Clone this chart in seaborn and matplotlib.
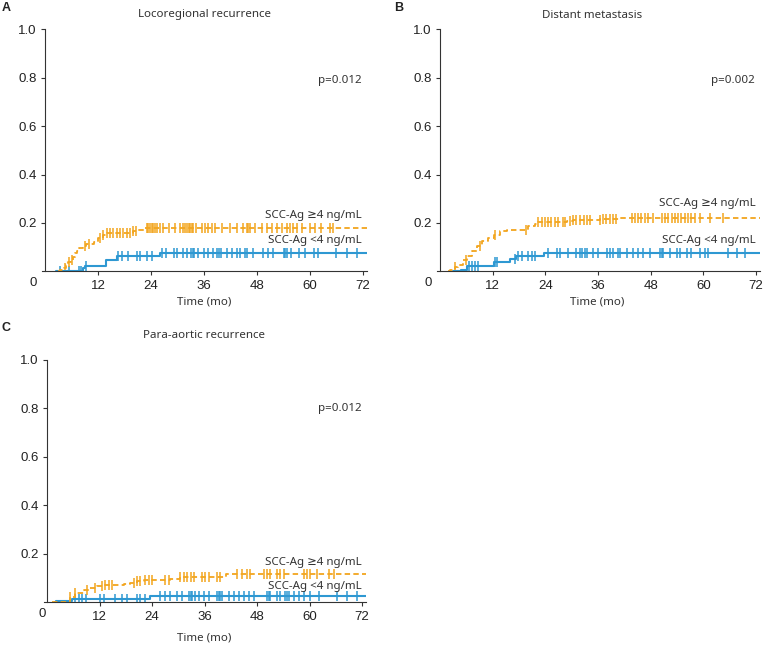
import numpy as np
import seaborn as sns
import matplotlib.pyplot as plt
import matplotlib.transforms as mtransforms

# ---- data (months, cumulative incidence) ----
# Panel A: locoregional recurrence
a_hi_t = [3.0, 3.5, 4.2, 4.8, 5.3, 5.8, 6.3, 6.8, 7.3, 7.8, 8.5, 9.3, 11.0, 12.1, 13.2, 14.0, 20.0, 21.1, 22.6]
a_hi_y = [0, 0.007, 0.015, 0.026, 0.037, 0.047, 0.060, 0.074, 0.085, 0.095, 0.104, 0.111, 0.122, 0.136, 0.150, 0.159, 0.166, 0.170, 0.179]
a_hi_cens = [4.5, 5.5, 6.2, 9.0, 10.0, 12.5, 13.2, 14.0, 14.7, 15.5, 16.2, 17.0, 17.7, 18.5, 19.2, 20.0, 20.7,
             23.0, 23.4, 23.8, 24.2, 24.5, 24.9, 25.3, 26.0, 26.8, 28.0, 29.4, 30.6, 31.3, 31.7, 32.1, 32.5, 32.9,
             33.2, 33.6, 34.3, 35.5, 36.2, 37.0, 37.7, 38.5, 40.0, 41.9, 43.4, 44.9, 45.7, 46.0, 46.4, 47.5, 49.1,
             50.2, 51.3, 52.5, 53.6, 54.7, 55.5, 56.2, 57.0, 58.1, 60.0, 61.1, 62.6, 64.5, 65.3]
a_lo_t = [2.5, 8.6, 9.1, 13.8, 16.4, 26.0]
a_lo_y = [0, 0.012, 0.023, 0.047, 0.065, 0.077]
a_lo_cens = [3.4, 5.4, 7.7, 8.1, 9.3, 16.6, 17.5, 18.9, 20.9, 21.5, 23.0, 24.2, 26.4, 27.5, 29.2, 30.0, 31.2,
             32.1, 33.0, 33.4, 33.7, 34.7, 36.0, 37.0, 38.1, 39.0, 39.4, 39.8, 41.3, 42.4, 43.4, 44.2, 45.3, 45.7,
             47.0, 49.4, 50.6, 51.7, 54.0, 54.3, 54.7, 55.8, 57.4, 58.9, 60.8, 61.9, 66.0, 68.3, 70.6]

# Panel B: distant metastasis
b_hi_t = [1.9, 2.3, 3.4, 4.2, 5.3, 6.1, 7.2, 8.4, 9.5, 11.0, 12.2, 13.7, 15.2, 20.1, 21.6, 22.4, 28.9, 30.4, 36.5, 41.0]
b_hi_y = [0, 0.007, 0.017, 0.028, 0.048, 0.062, 0.083, 0.103, 0.124, 0.138, 0.152, 0.165, 0.172, 0.186, 0.197,
          0.202, 0.207, 0.212, 0.215, 0.222]
b_hi_cens = [3.4, 5.9, 9.1, 12.5, 19.7, 22.4, 23.2, 23.9, 24.7, 25.4, 26.2, 26.9, 28.1, 28.5, 29.6, 30.4, 31.1,
             31.9, 32.7, 33.4, 34.2, 36.4, 37.2, 37.9, 38.7, 39.5, 40.2, 43.7, 44.4, 45.2, 45.9, 46.7, 47.5, 48.6,
             50.5, 51.3, 52.0, 52.8, 53.5, 54.3, 55.0, 55.8, 56.6, 57.3, 58.1, 59.2, 61.5, 64.5]
b_lo_t = [3.0, 4.8, 6.2, 12.2, 15.9, 17.4, 23.6]
b_lo_y = [0, 0.006, 0.022, 0.038, 0.050, 0.063, 0.074]
b_lo_cens = [6.5, 7.2, 8.0, 8.7, 12.5, 13.1, 17.1, 17.8, 18.6, 20.1, 20.9, 21.6, 24.7, 26.6, 27.3, 29.2, 31.1,
             31.9, 32.3, 33.0, 33.4, 34.9, 36.1, 38.0, 38.7, 39.5, 40.6, 41.0, 42.5, 44.0, 45.2, 46.3, 47.8, 50.1,
             50.5, 50.9, 52.4, 53.9, 54.7, 56.2, 57.3, 59.2, 60.4, 61.1, 65.7, 67.6, 69.5]

# Panel C: para-aortic recurrence
c_hi_t = [1.2, 5.3, 6.5, 8.4, 9.5, 11.4, 13.0, 17.5, 19.0, 20.6, 22.1, 26.7, 28.2, 30.5, 40.8]
c_hi_y = [0, 0.023, 0.037, 0.051, 0.061, 0.067, 0.073, 0.076, 0.081, 0.086, 0.090, 0.093, 0.098, 0.104, 0.115]
c_hi_cens = [5.3, 6.5, 9.1, 11.0, 12.6, 13.3, 14.1, 14.9, 19.8, 20.6, 21.3, 22.5, 23.2, 24.0, 27.0, 27.8, 30.5,
             31.2, 32.0, 32.8, 33.5, 35.4, 36.2, 37.0, 38.9, 39.6, 43.4, 44.6, 45.7, 46.5, 49.5, 50.3, 51.0, 52.6,
             53.3, 54.1, 58.7, 59.4, 60.2, 61.7, 64.4, 65.5]
c_lo_t = [1.9, 2.0, 5.7, 23.6]
c_lo_y = [0, 0.005, 0.015, 0.026]
c_lo_cens = [6.5, 7.2, 8.0, 8.8, 12.2, 13.0, 15.6, 17.1, 18.3, 20.6, 21.3, 22.5, 25.9, 27.0, 28.2, 29.7, 30.9,
             32.4, 32.8, 33.1, 33.9, 34.7, 35.8, 37.0, 38.9, 39.2, 39.6, 40.0, 41.5, 42.7, 43.8, 45.0, 46.1, 47.2,
             50.3, 50.7, 51.0, 52.6, 53.3, 54.5, 54.9, 55.2, 56.4, 57.5, 58.7, 60.2, 62.1, 66.3, 68.6, 70.9]

titles = ["Locoregional recurrence", "Distant metastasis", "Para-aortic recurrence"]
letters = ["A", "B", "C"]
pvals = ["p=0.012", "p=0.002", "p=0.012"]
label_hi = "SCC-Ag \u22654 ng/mL"
label_lo = "SCC-Ag <4 ng/mL"
x_ticks = [12, 24, 36, 48, 60, 72]
y_ticks = [0.2, 0.4, 0.6, 0.8, 1.0]
t_end = 72.8

ORANGE = "#F2A51E"
BLUE = "#2E98D2"

sns.set_style("ticks")
plt.rcParams["font.family"] = ["Noto Sans", "DejaVu Sans"]

W, H = 763, 646
fig = plt.figure(figsize=(W / 100, H / 100), dpi=100)


def px(x, y):
    return x / W, 1 - y / H


def add_panel(x0, x72, y1, y0):
    # x0/x72: pixel x of 0 and 72 months; y1/y0: pixel y of 1.0 and 0
    ppm = (x72 - x0) / 72
    left = x0 - 0.6 * ppm
    right = x0 + 73 * ppm
    ax = fig.add_axes([left / W, 1 - y0 / H, (right - left) / W, (y0 - y1) / H])
    ax.set_xlim(-0.6, 73)
    ax.set_ylim(0, 1.0)
    return ax


def step_at(t, y, c):
    idx = np.searchsorted(t, c, side="right") - 1
    return np.asarray(y)[np.clip(idx, 0, None)]


def draw_curve(ax, t, y, cens, color, dashed):
    tt = np.array(t + [t_end])
    yy = np.array(y + [y[-1]])
    ls = (0, (3, 1.8)) if dashed else "-"
    lw = 1.3 if dashed else 1.5
    sns.lineplot(x=tt, y=yy, ax=ax, drawstyle="steps-post", color=color,
                 linestyle=ls, linewidth=lw, estimator=None, sort=False)
    cy = step_at(np.array(t), y, np.array(cens))
    sns.scatterplot(x=cens, y=cy, ax=ax, marker="|", s=45, color=color, linewidth=1.1)


panels = [
    dict(box=(45, 363, 29.3, 271.3), hi=(a_hi_t, a_hi_y, a_hi_cens), lo=(a_lo_t, a_lo_y, a_lo_cens),
         zero_x=-2.7),
    dict(box=(440, 756, 29.3, 271.3), hi=(b_hi_t, b_hi_y, b_hi_cens), lo=(b_lo_t, b_lo_y, b_lo_cens),
         zero_x=-2.7),
    dict(box=(47, 362, 360, 602.3), hi=(c_hi_t, c_hi_y, c_hi_cens), lo=(c_lo_t, c_lo_y, c_lo_cens),
         zero_x=-1.2),
]

for i, p in enumerate(panels):
    ax = add_panel(*p["box"])
    draw_curve(ax, *p["lo"], BLUE, False)
    draw_curve(ax, *p["hi"], ORANGE, True)

    for s in ["top", "right"]:
        ax.spines[s].set_visible(False)
    ax.spines["left"].set_position(("data", 0))
    for s in ["left", "bottom"]:
        ax.spines[s].set_color("#333333")
        ax.spines[s].set_linewidth(0.8)
    ax.set_xticks(x_ticks)
    ax.set_yticks(y_ticks)
    ax.set_yticklabels([f"{v:.1f}" for v in y_ticks])
    ax.tick_params(length=3, width=0.8, color="#333333", labelsize=9.5, labelcolor="#222222", pad=3)
    for lab in ax.get_xticklabels() + ax.get_yticklabels():
        lab.set_family("Liberation Sans")
    ax.set_xlabel("")
    ax.set_ylabel("")
    trans = mtransforms.blended_transform_factory(ax.transData, ax.transAxes)
    ax.text(p["zero_x"], -0.022, "0", transform=trans, ha="center", va="top",
            fontsize=9.5, family="Liberation Sans", color="#222222")


# text placed in pixel positions
def ftext(x, y, s, **kw):
    fx, fy = px(x, y)
    fig.text(fx, fy, s, **kw)


txt = dict(fontsize=8.3, color="#333333")
let = dict(fontsize=9, fontweight="bold", family="Liberation Sans", va="center", ha="left", color="#222222")
# panel A
ftext(2, 8, letters[0], **let)
ftext(204, 15, titles[0], ha="center", va="center", **txt)
ftext(362, 80, pvals[0], ha="right", va="center", **txt)
ftext(362, 215, label_hi, ha="right", va="center", **txt)
ftext(362, 240.5, label_lo, ha="right", va="center", **txt)
ftext(204, 302, "Time (mo)", ha="center", va="center", **txt)
# panel B
ftext(394, 8, letters[1], **let)
ftext(592, 15, titles[1], ha="center", va="center", **txt)
ftext(755, 80, pvals[1], ha="right", va="center", **txt)
ftext(756, 203, label_hi, ha="right", va="center", **txt)
ftext(756, 241, label_lo, ha="right", va="center", **txt)
ftext(597, 302, "Time (mo)", ha="center", va="center", **txt)
# panel C
ftext(2, 328, letters[2], **let)
ftext(204, 335, titles[2], ha="center", va="center", **txt)
ftext(362, 409, pvals[2], ha="right", va="center", **txt)
ftext(362, 562, label_hi, ha="right", va="center", **txt)
ftext(362, 587, label_lo, ha="right", va="center", **txt)
ftext(204, 638, "Time (mo)", ha="center", va="center", **txt)

fig.savefig("out.png", dpi=100)
